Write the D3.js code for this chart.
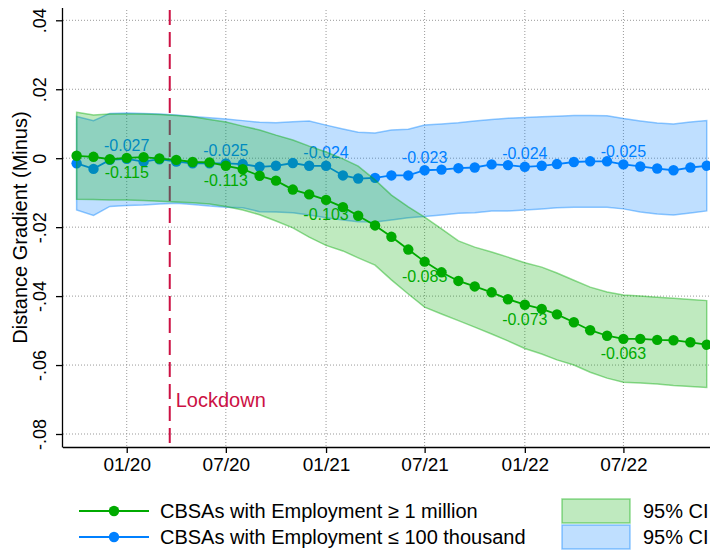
<!DOCTYPE html>
<html>
<head>
<meta charset="utf-8">
<script src="https://cdn.jsdelivr.net/npm/d3@7"></script>
<style>
  body { margin: 0; background: #fff; }
  svg text { font-family: "Liberation Sans", Arial, sans-serif; }
</style>
</head>
<body>
<div id="chart"></div>
<script>
// monthly observations, 10/19 .. 12/22
const months = d3.timeMonth.range(new Date(2019, 9, 1), new Date(2023, 0, 1));

// CBSAs with employment >= 1 million
const bigEst = [0.0007, 0.0004, -0.0003, 0.0001, 0.0003, -0.0001, -0.0005, -0.0011, -0.0012, -0.0022,
  -0.0032, -0.0051, -0.0065, -0.0091, -0.0105, -0.0121, -0.0142, -0.0167, -0.0195, -0.0228,
  -0.0265, -0.0300, -0.0331, -0.0356, -0.0372, -0.0389, -0.0409, -0.0425, -0.0437, -0.0453,
  -0.0476, -0.0499, -0.0515, -0.0524, -0.0524, -0.0527, -0.0528, -0.0534, -0.0541];
const bigHi = [0.0133, 0.0125, 0.0128, 0.0128, 0.0128, 0.0127, 0.0124, 0.0120, 0.0112, 0.0105,
  0.0093, 0.0082, 0.0067, 0.0053, 0.0035, 0.0018, -0.0002, -0.0023, -0.0063, -0.0107,
  -0.0141, -0.0171, -0.0205, -0.0240, -0.0258, -0.0272, -0.0287, -0.0303, -0.0316, -0.0333,
  -0.0354, -0.0374, -0.0388, -0.0397, -0.0400, -0.0403, -0.0406, -0.0410, -0.0413];
const bigLo = [-0.0119, -0.0120, -0.0121, -0.0121, -0.0123, -0.0125, -0.0127, -0.0129, -0.0133, -0.0140,
  -0.0150, -0.0164, -0.0182, -0.0202, -0.0229, -0.0253, -0.0269, -0.0289, -0.0310, -0.0353,
  -0.0394, -0.0432, -0.0452, -0.0471, -0.0490, -0.0510, -0.0530, -0.0552, -0.0568, -0.0585,
  -0.0600, -0.0621, -0.0638, -0.0650, -0.0652, -0.0655, -0.0659, -0.0662, -0.0665];

// CBSAs with employment <= 100 thousand
const smallEst = [-0.0015, -0.0031, -0.0005, -0.0002, -0.0010, -0.0003, -0.0010, -0.0015, -0.0015, -0.0015,
  -0.0017, -0.0025, -0.0022, -0.0014, -0.0022, -0.0022, -0.0050, -0.0059, -0.0057, -0.0050,
  -0.0050, -0.0035, -0.0033, -0.0029, -0.0027, -0.0018, -0.0020, -0.0025, -0.0022, -0.0017,
  -0.0011, -0.0009, -0.0009, -0.0018, -0.0024, -0.0030, -0.0035, -0.0027, -0.0022];
const smallHi = [0.0121, 0.0109, 0.0130, 0.0131, 0.0130, 0.0128, 0.0125, 0.0121, 0.0117, 0.0114,
  0.0109, 0.0104, 0.0103, 0.0106, 0.0108, 0.0096, 0.0085, 0.0075, 0.0073, 0.0082,
  0.0084, 0.0096, 0.0099, 0.0103, 0.0108, 0.0112, 0.0116, 0.0118, 0.0120, 0.0122,
  0.0124, 0.0124, 0.0123, 0.0115, 0.0108, 0.0102, 0.0099, 0.0105, 0.0109];
const smallLo = [-0.0150, -0.0166, -0.0140, -0.0137, -0.0136, -0.0133, -0.0131, -0.0134, -0.0139, -0.0142,
  -0.0144, -0.0155, -0.0156, -0.0158, -0.0165, -0.0173, -0.0179, -0.0184, -0.0185, -0.0179,
  -0.0173, -0.0169, -0.0165, -0.0160, -0.0158, -0.0153, -0.0153, -0.0150, -0.0147, -0.0144,
  -0.0142, -0.0142, -0.0142, -0.0147, -0.0156, -0.0162, -0.0165, -0.0159, -0.0153];

// point labels, every six months starting 01/20
const labelIdx = [3, 9, 15, 21, 27, 33];
const bigLabels = ["-0.115", "-0.113", "-0.103", "-0.085", "-0.073", "-0.063"];
const smallLabels = ["-0.027", "-0.025", "-0.024", "-0.023", "-0.024", "-0.025"];

const xTicks = [new Date(2020, 0, 1), new Date(2020, 6, 1), new Date(2021, 0, 1),
  new Date(2021, 6, 1), new Date(2022, 0, 1), new Date(2022, 6, 1)];
const yTicks = [-0.08, -0.06, -0.04, -0.02, 0, 0.02, 0.04];
const yTickLabels = ["-.08", "-.06", "-.04", "-.02", "0", ".02", ".04"];
const lockdown = new Date(2020, 2, 20);

const seriesNames = ["CBSAs with Employment \u2265 1 million", "CBSAs with Employment \u2264 100 thousand"];

const width = 710, height = 552;
const plotLeft = 63, plotRight = 710, plotTop = 8, plotBottom = 447;
const green = "#00aa00", blue = "#0080ff";

const svg = d3.select('#chart').append('svg')
  .attr('width', width)
  .attr('height', height);

const x = d3.scaleTime()
  .domain([new Date(2019, 8, 6), new Date(2022, 11, 7)])
  .range([plotLeft, plotRight]);
const y = d3.scaleLinear()
  .domain([-0.08, 0.04])
  .range([434, 20.3]);

// grid
const grid = svg.append('g').attr('stroke', '#999').attr('stroke-width', 1).attr('stroke-dasharray', '1,2');
grid.selectAll('.hg').data(yTicks).enter().append('line')
  .attr('x1', plotLeft).attr('x2', plotRight)
  .attr('y1', d => y(d)).attr('y2', d => y(d));
grid.selectAll('.vg').data(xTicks).enter().append('line')
  .attr('x1', d => x(d)).attr('x2', d => x(d))
  .attr('y1', plotTop + 2).attr('y2', plotBottom);

// lockdown line
svg.append('line')
  .attr('x1', x(lockdown)).attr('x2', x(lockdown))
  .attr('y1', plotTop + 2).attr('y2', plotBottom)
  .attr('stroke', '#cc1144')
  .attr('stroke-width', 2)
  .attr('stroke-dasharray', '15,7');

svg.append('text')
  .attr('x', x(lockdown) + 6)
  .attr('y', 407)
  .attr('font-size', '20px')
  .attr('fill', '#cc1144')
  .text('Lockdown');

function drawSeries(est, lo, hi, labels, color, fillColor, strokeColor, labelDy) {
  const rows = months.map((m, i) => ({ m: m, v: est[i], lo: lo[i], hi: hi[i] }));
  const area = d3.area().x(d => x(d.m)).y0(d => y(d.lo)).y1(d => y(d.hi));
  svg.append('path')
    .datum(rows)
    .attr('d', area)
    .attr('fill', fillColor)
    .attr('stroke', strokeColor)
    .attr('stroke-width', 1.5);

  const line = d3.line().x(d => x(d.m)).y(d => y(d.v));
  svg.append('path')
    .datum(rows)
    .attr('d', line)
    .attr('fill', 'none')
    .attr('stroke', color)
    .attr('stroke-width', 1.8);

  svg.append('g').selectAll('circle')
    .data(rows)
    .enter()
    .append('circle')
    .attr('cx', d => x(d.m))
    .attr('cy', d => y(d.v))
    .attr('r', 5.2)
    .attr('fill', color);

  svg.append('g').selectAll('text')
    .data(labelIdx)
    .enter()
    .append('text')
    .attr('x', i => x(months[i]))
    .attr('y', i => y(est[i]) + labelDy)
    .attr('text-anchor', 'middle')
    .attr('font-size', '16px')
    .attr('fill', color)
    .text((i, k) => labels[k]);
}

drawSeries(smallEst, smallLo, smallHi, smallLabels, blue, 'rgba(0,128,255,0.25)', 'rgba(0,128,255,0.42)', -7.5);
drawSeries(bigEst, bigLo, bigHi, bigLabels, green, 'rgba(0,170,0,0.25)', 'rgba(0,170,0,0.42)', 20.5);

// axes
const xAxis = d3.axisBottom(x)
  .tickValues(xTicks)
  .tickFormat(d3.timeFormat('%m/%y'))
  .tickSize(6)
  .tickPadding(5);
const gx = svg.append('g')
  .attr('transform', `translate(0,${plotBottom})`)
  .call(xAxis);
gx.select('.domain').attr('d', `M${plotLeft},0.5H${plotRight}`).attr('stroke', '#000').attr('stroke-width', 1.3);
gx.selectAll('.tick line').attr('stroke', '#000').attr('stroke-width', 1.3);
gx.selectAll('.tick text')
  .attr('font-size', '19px')
  .attr('font-family', '"Liberation Sans", Arial, sans-serif')
  .attr('fill', '#000');

const yAxis = d3.axisLeft(y)
  .tickValues(yTicks)
  .tickFormat((d, i) => yTickLabels[i])
  .tickSize(7);
const gy = svg.append('g')
  .attr('transform', `translate(${plotLeft},0)`)
  .call(yAxis);
gy.select('.domain').attr('d', `M-0.5,${plotTop}V${plotBottom + 0.5}`).attr('stroke', '#000').attr('stroke-width', 1.3);
gy.selectAll('.tick line').attr('stroke', '#000').attr('stroke-width', 1.3);
gy.selectAll('.tick text')
  .attr('x', null).attr('dy', null)
  .attr('transform', 'translate(-17,0) rotate(-90)')
  .attr('text-anchor', 'middle')
  .attr('font-size', '18px')
  .attr('font-family', '"Liberation Sans", Arial, sans-serif')
  .attr('fill', '#000');

svg.append('text')
  .attr('transform', `translate(27,${(plotTop + plotBottom) / 2}) rotate(-90)`)
  .attr('text-anchor', 'middle')
  .attr('font-size', '20px')
  .text('Distance Gradient (Minus)');

// legend
const legend = svg.append('g');
const legRows = [
  { name: seriesNames[0], color: green, fill: 'rgba(0,170,0,0.25)', stroke: 'rgba(0,170,0,0.42)', y: 511 },
  { name: seriesNames[1], color: blue, fill: 'rgba(0,128,255,0.25)', stroke: 'rgba(0,128,255,0.42)', y: 537 }
];
legRows.forEach(r => {
  legend.append('line')
    .attr('x1', 79).attr('x2', 149)
    .attr('y1', r.y).attr('y2', r.y)
    .attr('stroke', r.color).attr('stroke-width', 1.8);
  legend.append('circle')
    .attr('cx', 114).attr('cy', r.y).attr('r', 5.2)
    .attr('fill', r.color);
  legend.append('text')
    .attr('x', 160).attr('y', r.y + 7)
    .attr('font-size', '20px')
    .text(r.name);
  legend.append('rect')
    .attr('x', 562).attr('y', r.y - 12)
    .attr('width', 68).attr('height', 24)
    .attr('fill', r.fill)
    .attr('stroke', r.stroke)
    .attr('stroke-width', 1.5);
  legend.append('text')
    .attr('x', 643).attr('y', r.y + 7)
    .attr('font-size', '20px')
    .text('95% CI');
});
</script>
</body>
</html>
